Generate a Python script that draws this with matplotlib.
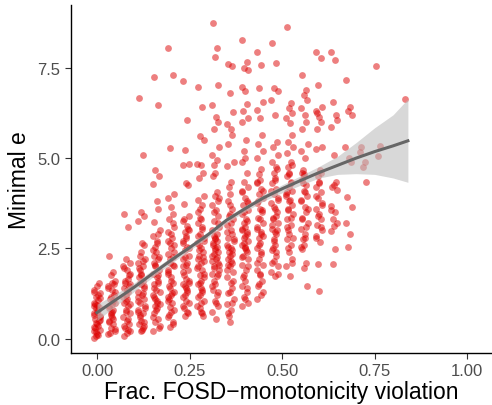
import numpy as np
import matplotlib.pyplot as plt

plt.rcParams['font.family'] = ['Liberation Sans', 'DejaVu Sans']

# x levels (fraction of violations) and the y values observed at each level
x_levels = [0.00, 0.04, 0.08, 0.12, 0.16, 0.20, 0.24, 0.28, 0.32, 0.36, 0.40,
            0.44, 0.48, 0.52, 0.56, 0.60, 0.64, 0.68, 0.72, 0.76, 0.84]
y_cols = [
    [0.02, 0.1, 0.18, 0.25, 0.32, 0.4, 0.48, 0.55, 0.62, 0.7, 0.78, 0.85, 0.92, 1.0,
     1.08, 1.15, 1.25, 1.35, 1.45, 1.55, 0.3, 0.6, 0.9, 1.2,
     0.06, 0.14, 0.22, 0.36, 0.44, 0.52, 0.66, 0.74, 0.88, 0.96, 1.12, 1.3],
    [2.29, 1.85, 1.75, 1.6, 1.45, 1.35, 1.2, 1.1, 1.0, 0.9, 0.8, 0.7, 0.6, 0.5, 0.4,
     0.3, 0.2, 0.12, 0.95, 1.5,
     0.16, 0.26, 0.45, 0.55, 0.65, 0.75, 0.85, 1.05, 1.15, 1.28, 1.4, 1.55],
    [3.45, 3.09, 2.2, 2.1, 2.0, 1.9, 1.75, 1.6, 1.5, 1.4, 1.3, 1.2, 1.1, 1.0, 0.9, 0.8,
     0.7, 0.6, 0.5, 0.4, 0.3, 0.2, 0.08, 1.65, 1.05,
     0.15, 0.35, 0.55, 0.75, 0.95, 1.15, 1.35, 1.45, 1.55, 1.8, 1.95, 0.25],
    [6.67, 5.1, 3.5, 3.4, 3.25, 2.65, 2.6, 2.3, 2.2, 2.1, 2.0, 1.9, 1.8, 1.7, 1.6, 1.5,
     1.4, 1.3, 1.2, 1.1, 1.0, 0.9, 0.8, 0.7, 0.6, 0.5, 0.4, 0.3, 0.2, 1.45, 0.75,
     0.25, 0.45, 0.65, 0.85, 1.05, 1.25, 1.55, 1.75, 1.95, 2.15, 2.4, 0.35, 1.15],
    [7.25, 6.47, 4.68, 4.5, 4.27, 3.8, 3.58, 3.22, 3.0, 2.84, 2.7, 2.55, 2.4, 2.3, 2.2,
     2.05, 1.9, 1.8, 1.7, 1.55, 1.4, 1.3, 1.2, 1.05, 0.9, 0.8, 0.7, 0.55, 0.45, 0.3,
     0.2, 1.0, 1.6, 2.1,
     0.35, 0.6, 0.85, 1.1, 1.35, 1.5, 1.75, 2.0, 2.25, 2.45, 2.65, 2.9, 1.15, 0.95],
    [8.04, 7.3, 5.29, 4.0, 3.9, 3.65, 3.45, 3.3, 3.1, 2.95, 2.8, 2.65, 2.5, 2.35, 2.25,
     2.1, 2.0, 1.85, 1.7, 1.55, 1.45, 1.3, 1.15, 1.0, 0.88, 0.74, 0.6, 0.47, 0.33,
     2.6, 1.9, 1.2,
     0.4, 0.65, 0.8, 1.05, 1.25, 1.4, 1.6, 1.8, 2.05, 2.2, 2.4, 2.7, 2.9, 3.2, 1.1],
    [7.14, 6.06, 5.23, 4.85, 4.8, 4.3, 4.25, 3.72, 3.4, 3.25, 3.11, 2.95, 2.8, 2.7,
     2.55, 2.45, 2.3, 2.2, 2.05, 1.9, 1.75, 1.6, 1.5, 1.35, 1.2, 1.05, 0.9, 0.75,
     0.63, 3.0, 2.0, 1.4,
     0.7, 0.85, 1.0, 1.15, 1.3, 1.45, 1.65, 1.85, 2.1, 2.25, 2.5, 2.65, 2.85, 3.05,
     3.3, 1.55],
    [6.97, 6.42, 5.6, 5.5, 4.85, 4.8, 4.6, 4.45, 3.95, 3.85, 3.7, 3.6, 3.3, 3.2, 3.05,
     2.9, 2.8, 2.65, 2.5, 2.4, 2.3, 2.15, 2.0, 1.9, 1.75, 1.6, 1.5, 1.35, 1.2, 1.05,
     0.9, 0.75, 0.63, 2.6, 1.8, 3.5,
     0.7, 0.85, 1.0, 1.15, 1.3, 1.55, 1.7, 1.95, 2.1, 2.25, 2.45, 2.7, 2.85, 3.1,
     3.35, 1.4, 2.2],
    [8.73, 8.04, 7.8, 7.02, 6.47, 6.15, 6.0, 5.8, 5.3, 5.1, 4.95, 4.8, 4.6, 4.5, 4.05,
     3.95, 3.8, 3.7, 3.55, 3.4, 3.25, 3.1, 3.0, 2.9, 2.84, 2.75, 2.65, 2.55, 2.5, 2.4,
     2.3, 2.2, 2.1, 2.0, 1.9, 1.8, 1.74, 1.6, 1.5, 1.35, 1.2, 1.05, 0.9, 0.75, 0.55,
     1.78, 1.95, 2.05, 2.15, 2.25, 2.35, 2.45, 2.6, 2.7, 2.8, 1.3, 1.45, 1.0, 3.2,
     3.5, 3.9],
    [7.6, 7.55, 6.8, 6.28, 5.95, 5.8, 5.65, 5.4, 4.9, 4.77, 4.35, 4.2, 4.0, 3.8, 3.6,
     3.45, 3.3, 3.15, 3.0, 2.9, 2.8, 2.7, 2.6, 2.5, 2.4, 2.3, 2.2, 2.1, 2.0, 1.85,
     1.7, 1.55, 1.4, 1.25, 1.1, 0.95, 0.8, 0.63, 0.45,
     0.7, 1.0, 1.3, 1.6, 1.9, 2.15, 2.35, 2.55, 2.75, 2.95, 3.2, 3.4, 3.7, 2.05, 2.45],
    [8.26, 7.66, 7.5, 7.44, 6.97, 6.85, 6.5, 6.3, 6.1, 6.0, 5.5, 5.2, 5.0, 4.9, 4.6,
     4.33, 4.2, 4.05, 3.9, 3.8, 3.7, 3.55, 3.45, 3.3, 3.2, 3.1, 3.0, 2.9, 2.8, 2.7,
     2.6, 2.5, 2.4, 2.3, 2.2, 2.05, 1.9, 1.75, 1.6, 1.45, 1.3, 1.15, 1.0, 0.9,
     1.1, 1.4, 1.7, 2.0, 2.25, 2.45, 2.65, 2.85, 3.05, 3.25, 3.5, 3.75, 4.1, 2.55,
     2.95],
    [7.93, 7.58, 6.94, 6.56, 6.34, 6.12, 5.65, 5.4, 5.2, 5.0, 4.7, 4.55, 4.4, 4.3,
     4.15, 4.0, 3.9, 3.75, 3.6, 3.5, 3.35, 3.2, 3.05, 2.9, 2.8, 2.65, 2.5, 2.35, 2.2,
     2.05, 1.9, 1.75, 1.6, 1.45, 1.3, 1.1,
     1.2, 1.5, 1.8, 2.1, 2.4, 2.6, 2.85, 3.1, 3.3, 3.55, 3.8, 4.1, 4.35, 2.95],
    [8.18, 7.63, 6.94, 6.85, 6.6, 6.2, 5.45, 5.3, 5.1, 4.9, 4.75, 4.6, 4.45, 4.3,
     4.15, 4.0, 3.9, 3.75, 3.6, 3.5, 3.35, 3.2, 3.05, 2.9, 2.75, 2.6, 2.45, 2.3, 2.15,
     2.0, 1.85, 1.74, 3.0, 2.5,
     1.8, 2.1, 2.4, 2.7, 2.95, 3.15, 3.4, 3.65, 3.85, 4.1, 4.4, 4.7, 3.3],
    [8.62, 6.53, 6.4, 6.25, 6.1, 5.98, 5.65, 5.45, 5.3, 5.15, 4.88, 4.75, 4.6, 4.5,
     4.35, 4.2, 4.1, 4.0, 3.85, 3.7, 3.6, 3.45, 3.3, 3.15, 3.0, 2.9, 2.75, 2.6, 2.4,
     2.2, 2.0, 1.74,
     2.1, 2.5, 2.8, 3.1, 3.35, 3.55, 3.8, 4.05, 4.3, 4.55, 4.8, 3.95],
    [7.3, 6.89, 6.75, 6.61, 6.4, 6.2, 6.0, 5.8, 5.4, 5.2, 5.0, 4.68, 4.55, 4.4, 4.25,
     4.1, 3.95, 3.8, 3.65, 3.5, 3.35, 3.2, 3.05, 2.9, 2.75, 2.6, 2.48, 2.1, 1.95,
     1.46,
     2.55, 2.8, 3.1, 3.3, 3.6, 3.85, 4.05, 4.3, 4.5, 4.6],
    [7.93, 7.77, 7.02, 6.42, 6.3, 6.15, 6.0, 5.8, 5.32, 5.25, 4.68, 4.5, 4.35, 4.2,
     4.05, 3.9, 3.75, 3.6, 3.45, 3.3, 3.15, 3.0, 2.85, 2.67, 2.07, 1.32,
     2.8, 3.1, 3.4, 3.7, 3.95, 4.3, 4.6, 6.25],
    [7.93, 7.71, 6.56, 6.06, 5.85, 5.1, 4.33, 4.2, 4.13, 3.66, 3.5, 3.3, 3.11, 2.98,
     2.48, 2.07, 3.2, 3.55, 4.25, 6.2],
    [7.16, 6.42, 6.3, 6.2, 5.32, 5.0, 4.9, 3.91, 3.64, 3.2, 2.89, 2.53],
    [5.3, 4.9, 4.75, 4.33, 5.18],
    [7.55, 5.34, 5.07],
    [6.64],
]
# horizontal jitter offsets, cycled over the points of each column
jitter = [-0.007, 0.004, -0.002, 0.008, -0.009, 0.001, 0.006, -0.005, 0.009, -0.008,
          0.003, -0.003, 0.0]

# smoothed fit with its confidence band
x_fit = [0.00, 0.05, 0.10, 0.15, 0.20, 0.25, 0.30, 0.35, 0.40, 0.45, 0.50, 0.55,
         0.60, 0.65, 0.70, 0.75, 0.80, 0.84]
y_fit = [0.72, 1.07, 1.42, 1.80, 2.17, 2.52, 2.88, 3.28, 3.60, 3.90, 4.15, 4.38,
         4.60, 4.80, 5.00, 5.18, 5.34, 5.48]
y_lo = [0.50, 0.90, 1.30, 1.70, 2.08, 2.44, 2.80, 3.20, 3.52, 3.81, 4.04, 4.25,
        4.45, 4.55, 4.57, 4.55, 4.45, 4.33]
y_hi = [0.95, 1.24, 1.54, 1.90, 2.26, 2.60, 2.96, 3.36, 3.68, 3.99, 4.26, 4.51,
        4.77, 5.05, 5.43, 5.84, 6.20, 6.64]

xs, ys = [], []
for xv, col in zip(x_levels, y_cols):
    for i, yv in enumerate(col):
        xs.append(xv + jitter[i % len(jitter)])
        ys.append(yv)

fig = plt.figure(figsize=(4.92, 4.06), dpi=100)
ax = fig.add_axes([0.1443, 0.128, 0.854, 0.857])

ax.scatter(xs, ys, s=24, color='#DD0000', alpha=0.5, linewidths=0, zorder=2)
ax.fill_between(x_fit, y_lo, y_hi, color='#BEBEBE', alpha=0.6, linewidth=0, zorder=3)
ax.plot(x_fit, y_fit, color='#666666', lw=2.2, zorder=4)

ax.set_xlim(-0.0703, 1.065)
ax.set_ylim(-0.40, 9.24)
ax.set_xticks([0, 0.25, 0.5, 0.75, 1.0])
ax.set_xticklabels(['0.00', '0.25', '0.50', '0.75', '1.00'])
ax.set_yticks([0, 2.5, 5.0, 7.5])
ax.set_yticklabels(['0.0', '2.5', '5.0', '7.5'])
ax.tick_params(labelsize=12, labelcolor='#4D4D4D', length=4, width=0.8, color='#333333')
ax.set_xlabel('Frac. FOSD\u2212monotonicity violation', fontsize=16.5, labelpad=1)
ax.set_ylabel('Minimal e', fontsize=16.5, labelpad=5)
for side in ['top', 'right']:
    ax.spines[side].set_visible(False)
for side in ['left', 'bottom']:
    ax.spines[side].set_linewidth(1.0)

fig.savefig('out.png', dpi=100)
